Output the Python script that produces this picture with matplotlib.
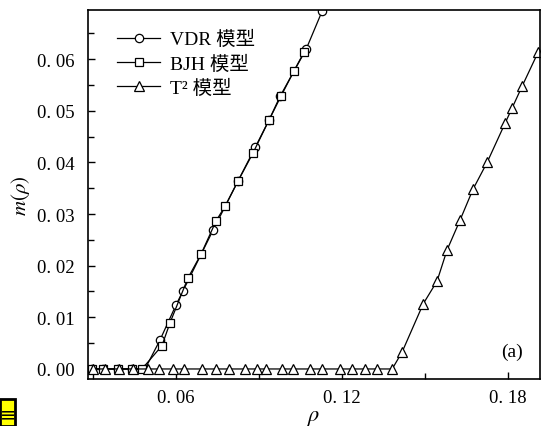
import matplotlib
matplotlib.use("Agg")
import matplotlib.pyplot as plt
from matplotlib.ticker import MultipleLocator, FuncFormatter
from matplotlib.patches import Rectangle

plt.rcParams['font.family'] = ['Liberation Serif', 'Noto Sans CJK SC', 'DejaVu Sans']
plt.rcParams['mathtext.fontset'] = 'stix'

# --- data ---
vdr_x = [0.0296, 0.0336, 0.0390, 0.0441, 0.0488, 0.0542, 0.0600, 0.0625,
         0.0734, 0.0824, 0.0886, 0.0936, 0.0976, 0.1070, 0.1128]
vdr_y = [0.0, 0.0, 0.0, 0.0, 0.0, 0.0056, 0.0124, 0.0151,
         0.0269, 0.0364, 0.0429, 0.0482, 0.0528, 0.0619, 0.0693]

bjh_x = [0.0296, 0.0336, 0.0390, 0.0441, 0.0477, 0.0549, 0.0578, 0.0643,
         0.0690, 0.0745, 0.0777, 0.0824, 0.0878, 0.0936, 0.0979, 0.1026, 0.1063]
bjh_y = [0.0, 0.0, 0.0, 0.0, 0.0, 0.0045, 0.0089, 0.0176,
         0.0222, 0.0287, 0.0315, 0.0364, 0.0418, 0.0482, 0.0528, 0.0577, 0.0614]

t2_x = [0.0300, 0.0343, 0.0394, 0.0445, 0.0499, 0.0539, 0.0589, 0.0629,
        0.0694, 0.0745, 0.0792, 0.0849, 0.0893, 0.0925, 0.0983, 0.1023,
        0.1084, 0.1128, 0.1193, 0.1236, 0.1283, 0.1326, 0.1381,
        0.1417, 0.1493, 0.1543, 0.1579, 0.1626, 0.1673, 0.1724,
        0.1789, 0.1814, 0.1850, 0.1908]
t2_y = [0.0] * 23 + [0.0033, 0.0126, 0.0170, 0.0230, 0.0288, 0.0348, 0.0400,
                     0.0476, 0.0505, 0.0547, 0.0613]

labels = ['VDR 模型', 'BJH 模型', 'T² 模型']

fig = plt.figure(figsize=(5.42, 4.27), dpi=100)
ax = fig.add_axes([0.1624, 0.1101, 0.8339, 0.8641])

style = dict(color='black', lw=0.9, mfc='white', mec='black', mew=0.9)
ax.plot(vdr_x, vdr_y, marker='o', ms=6, label=labels[0], **style)
ax.plot(bjh_x, bjh_y, marker='s', ms=5.5, label=labels[1], **style)
ax.plot(t2_x, t2_y, marker='^', ms=7.5, label=labels[2], **style)

ax.set_xlim(0.0282, 0.1915)
ax.set_ylim(-0.00194, 0.0695)

ax.xaxis.set_major_locator(MultipleLocator(0.06))
ax.xaxis.set_minor_locator(MultipleLocator(0.03))
ax.yaxis.set_major_locator(MultipleLocator(0.01))
ax.yaxis.set_minor_locator(MultipleLocator(0.005))
fmt = FuncFormatter(lambda v, p: f"{v:.2f}".replace('.', '. '))
ax.xaxis.set_major_formatter(fmt)
ax.yaxis.set_major_formatter(fmt)

ax.tick_params(which='both', direction='in', top=False, right=False,
               labelsize=13.5, width=1)
ax.tick_params(which='major', length=5)
ax.tick_params(which='minor', length=4)
ax.tick_params(axis='y', pad=10)
ax.tick_params(axis='x', pad=7)
for s in ax.spines.values():
    s.set_linewidth(1.2)

ax.set_xlabel(r'$\rho$', fontsize=16, labelpad=2)
ax.set_ylabel(r'$m(\rho)$', fontsize=15, labelpad=3)

ax.text(0.1814, 0.0035, '(a)', fontsize=14, ha='center', va='center')

ax.legend(loc='upper left', frameon=False, fontsize=14, handlelength=2.2,
          handletextpad=0.5, labelspacing=0.32, borderaxespad=0.3,
          bbox_to_anchor=(0.035, 0.982))

# small yellow badge in the lower left corner
fig.patches.append(Rectangle((0.0, 0.0), 15 / 542, 27 / 427, transform=fig.transFigure,
                             facecolor='#ffff00', edgecolor='black', lw=2))
fig.text(0.0, 0.028, '≡', fontsize=14, family='DejaVu Sans', ha='left', va='center')

fig.savefig('out.png', dpi=100)
